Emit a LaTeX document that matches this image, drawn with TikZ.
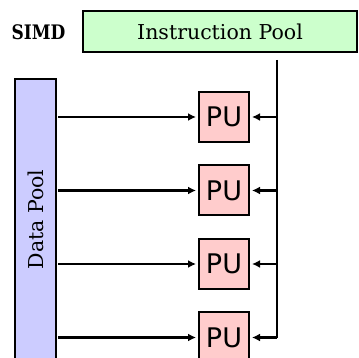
\documentclass[tikz,border=0pt]{standalone}
\usepackage{fontspec}
\newfontfamily\pufont{DejaVu Sans}
\newfontfamily\poolfont{DejaVu Serif}
\usetikzlibrary{arrows.meta}
\definecolor{ipgreen}{HTML}{CCFFCC}
\definecolor{dpblue}{HTML}{CCCCFF}
\definecolor{pured}{HTML}{FFCCCC}
\tikzset{
  poolbox/.style={draw, line width=2pt, inner sep=0pt},
  pooltext/.style={font=\poolfont\fontsize{20.5}{20.5}\selectfont},
  pubox/.style={draw, line width=2pt, fill=pured, minimum width=50pt, minimum height=50pt, inner sep=0pt, font=\pufont\fontsize{27}{27}\selectfont, outer sep=3pt},
  conn/.style={line width=2.8pt, -{Latex[length=8pt,width=8pt]}},
  wire/.style={line width=2.8pt}
}
\begin{document}
\begin{tikzpicture}[x=1pt,y=-1pt]
\useasboundingbox (0,0) rectangle (359,358);
\clip (0,0) rectangle (359,358);
\node (simd) at (38.5,32) {\scalebox{0.85}[1]{\poolfont\bfseries\fontsize{20}{20}\selectfont SIMD}};
\node[poolbox, fill=ipgreen, minimum width=274pt, minimum height=41pt, pooltext] (ipool) at (220,31.5) {Instruction Pool};
\node[poolbox, fill=dpblue, minimum width=41pt, minimum height=281pt, outer sep=2pt] (dpool) at (35.5,219.5) {};
\node[rotate=90, pooltext] (dtext) at (dpool.center) {Data Pool};
\node[pubox] (pu1) at (224,117) {PU};
\node[pubox] (pu2) at (224,190.5) {PU};
\node[pubox] (pu3) at (224,264) {PU};
\node[pubox] (pu4) at (224,337.5) {PU};
\coordinate (itop) at (277,60);
\draw[wire] (itop) -- (itop |- pu4.center);
\foreach \p in {pu1,pu2,pu3,pu4}{
  \draw[conn] (dpool.east |- \p.center) -- (\p.west);
  \draw[conn] (itop |- \p.center) -- (\p.east);
}
\end{tikzpicture}
\end{document}
